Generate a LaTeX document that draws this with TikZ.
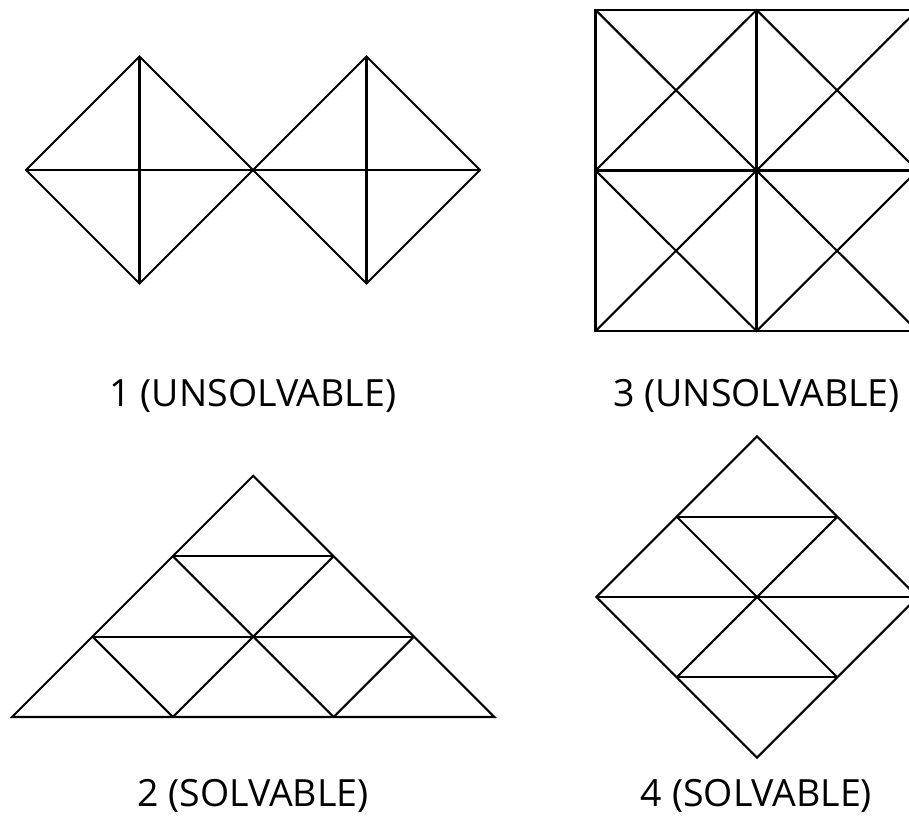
\documentclass[tikz,border=0pt]{standalone}
\usepackage{fontspec}
\setmainfont{Open Sans}
\begin{document}
\begin{tikzpicture}[x=1pt,y=-1pt,
  edge/.style={line width=2.1pt,black},
  caption/.style={anchor=base,inner sep=0pt,font=\fontsize{37.5}{43}\selectfont}]
\useasboundingbox (0,0) rectangle (909,817);
\clip (0,0) rectangle (909,817);
\fill[white] (0,0) rectangle (909,817);
% ---- Figure 1: two diamonds
\coordinate (aT) at (139.5,56.5);
\coordinate (aB) at (139.5,283.5);
\coordinate (aL) at (26,170);
\coordinate (M) at (253,170);
\coordinate (bT) at (366.5,56.5);
\coordinate (bB) at (366.5,283.5);
\coordinate (bR) at (480,170);
\draw[edge] (aL) -- (aT) -- (M) -- (aB) -- cycle;
\draw[edge] (M) -- (bT) -- (bR) -- (bB) -- cycle;
\draw[edge] (aL) -- (bR);
\draw[edge] (aT) -- (aB);
\draw[edge] (bT) -- (bB);
\node[caption] (c1) at (253,406) {1 (UNSOLVABLE)};
% ---- Figure 3: square with diagonals in each quadrant
\begin{scope}[shift={(595.5,10)}]
\draw[edge] (0,0) rectangle (322,321);
\draw[edge] (161,0) -- (161,321);
\draw[edge] (0,160.5) -- (322,160.5);
\draw[edge] (0,0) -- (161,160.5) -- (322,321);
\draw[edge] (0,321) -- (161,160.5) -- (322,0);
\draw[edge] (161,0) -- (322,160.5) -- (161,321) -- (0,160.5) -- cycle;
\end{scope}
\node[caption] (c3) at (756.5,406) {3 (UNSOLVABLE)};
% ---- Figure 2: triangle
\begin{scope}[shift={(12,717)},x=80.4pt,y=80.4pt]
\coordinate (p00) at (0,0);
\coordinate (p20) at (2,0);
\coordinate (p40) at (4,0);
\coordinate (p60) at (6,0);
\coordinate (p11) at (1,1);
\coordinate (p31) at (3,1);
\coordinate (p51) at (5,1);
\coordinate (p22) at (2,2);
\coordinate (p42) at (4,2);
\coordinate (p33) at (3,3);
\draw[edge] (p00) -- (p60) -- (p33) -- cycle;
\draw[edge] (p22) -- (p42);
\draw[edge] (p11) -- (p51);
\draw[edge] (p22) -- (p40);
\draw[edge] (p42) -- (p20);
\draw[edge] (p11) -- (p20);
\draw[edge] (p51) -- (p40);
\end{scope}
\node[caption] (c2) at (253,806) {2 (SOLVABLE)};
% ---- Figure 4: diamond
\begin{scope}[shift={(757,597)},x=80.3pt,y=80.3pt]
\coordinate (qT) at (0,2);
\coordinate (qB) at (0,-2);
\coordinate (qL) at (-2,0);
\coordinate (qR) at (2,0);
\coordinate (q1) at (-1,1);
\coordinate (q2) at (1,1);
\coordinate (q3) at (-1,-1);
\coordinate (q4) at (1,-1);
\draw[edge] (qT) -- (qR) -- (qB) -- (qL) -- cycle;
\draw[edge] (qL) -- (qR);
\draw[edge] (q1) -- (q2);
\draw[edge] (q3) -- (q4);
\draw[edge] (q1) -- (q4);
\draw[edge] (q2) -- (q3);
\end{scope}
\node[caption] (c4) at (756.5,806) {4 (SOLVABLE)};
\end{tikzpicture}
\end{document}
